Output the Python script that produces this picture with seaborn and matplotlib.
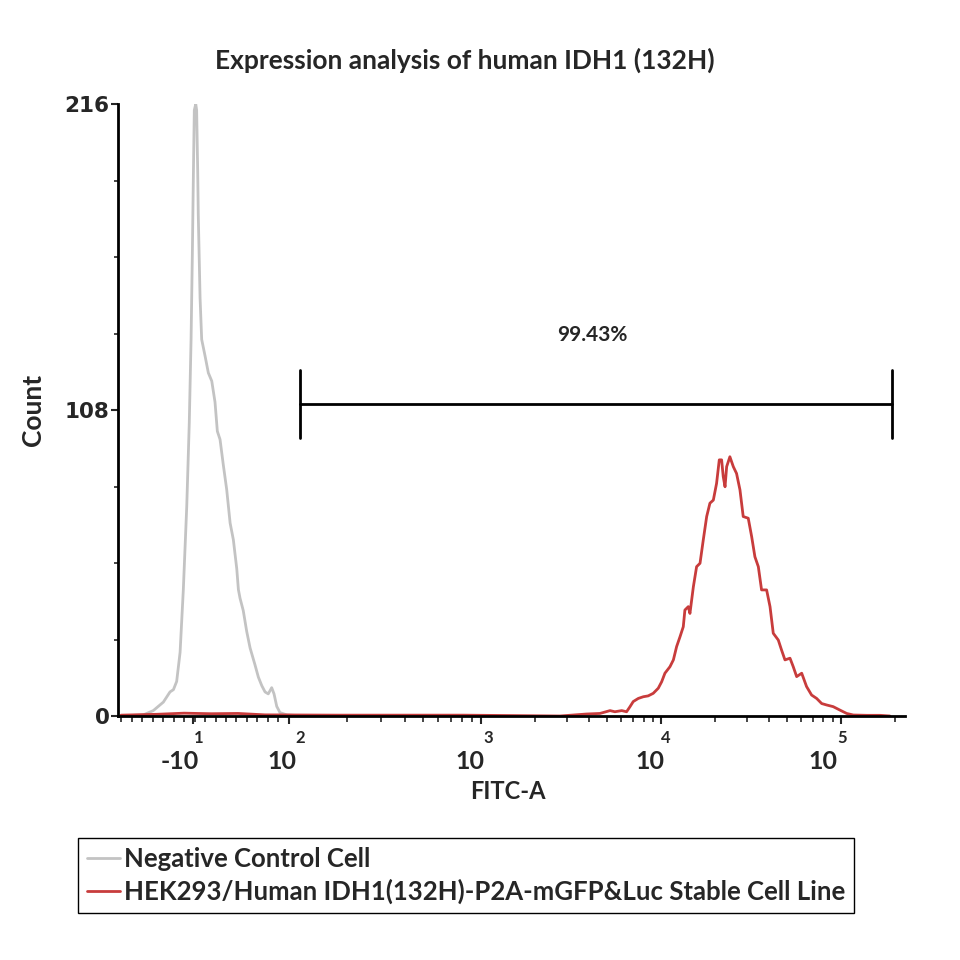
import numpy as np
import pandas as pd
import seaborn as sns
import matplotlib.pyplot as plt

# x positions are in display "decade" units of the biexponential FITC-A axis
neg_x = [1.00, 1.124, 1.179, 1.235, 1.272, 1.291, 1.309, 1.328, 1.346, 1.365, 1.379, 1.389,
         1.396, 1.402, 1.407, 1.415, 1.420, 1.426, 1.429, 1.439, 1.448, 1.467, 1.485, 1.504,
         1.522, 1.535, 1.550, 1.568, 1.587, 1.606, 1.624, 1.643, 1.652, 1.661, 1.679, 1.698,
         1.717, 1.744, 1.763, 1.782, 1.800, 1.818, 1.837, 1.850, 1.865, 1.883, 1.921, 1.976,
         2.087, 2.40]
neg_count = [0.0, 0.4, 1.9, 4.9, 8.5, 9.3, 12.2, 22.5, 44.6, 74.0, 103.4, 132.9,
             162.3, 191.7, 213.8, 216.0, 213.8, 191.7, 177.0, 147.6, 132.9, 127.0, 121.1, 118.2,
             110.8, 100.5, 97.6, 88.7, 79.9, 68.1, 62.2, 51.9, 44.6, 41.6, 37.2, 29.9,
             24.0, 18.1, 13.7, 10.7, 8.5, 7.8, 10.0, 7.8, 3.4, 1.2, 0.4, 0.15,
             0.0, 0.0]

pos_x = [1.00, 1.20, 1.35, 1.50, 1.65, 1.80, 2.20, 2.90, 3.439, 3.513, 3.587, 3.661, 3.717,
         3.744, 3.782, 3.809, 3.828, 3.846, 3.874, 3.902, 3.929, 3.957, 3.985, 4.004, 4.022,
         4.050, 4.069, 4.087, 4.106, 4.124, 4.133, 4.152, 4.161, 4.180, 4.198, 4.217, 4.235,
         4.254, 4.272, 4.291, 4.309, 4.324, 4.337, 4.346, 4.356, 4.365, 4.383, 4.402, 4.420,
         4.439, 4.457, 4.485, 4.504, 4.522, 4.541, 4.559, 4.587, 4.606, 4.624, 4.652, 4.670,
         4.689, 4.717, 4.735, 4.754, 4.782, 4.809, 4.837, 4.865, 4.893, 4.920, 4.957, 4.994,
         5.032, 5.069, 5.143, 5.217, 5.272]
pos_count = [0.3, 0.6, 1.0, 0.8, 0.9, 0.4, 0.3, 0.3, 0.0, 0.35, 0.7, 0.9, 1.9,
             1.5, 1.9, 1.5, 3.3, 5.1, 6.2, 6.8, 7.1, 8.0, 9.8, 12.1, 15.1,
             17.4, 19.8, 24.5, 28.0, 31.5, 37.4, 38.6, 36.2, 45.6, 52.7, 53.9, 62.1,
             70.4, 75.1, 76.2, 82.1, 90.4, 90.4, 84.5, 80.9, 88.0, 91.5, 88.0, 85.6,
             79.8, 70.4, 69.8, 63.3, 56.2, 52.7, 44.5, 44.5, 38.6, 29.2, 26.8, 23.3,
             19.8, 20.4, 17.4, 13.9, 15.1, 10.4, 7.4, 6.2, 4.4, 3.9, 3.3, 2.1,
             0.9, 0.35, 0.24, 0.24, 0.0]

series_names = ["Negative Control Cell",
                "HEK293/Human IDH1(132H)-P2A-mGFP&Luc Stable Cell Line"]
series_colors = ["#c3c3c3", "#c83c3c"]

major_pos = [1.40, 1.933, 3.0, 4.0, 5.0]
tick_bases = ["-10", "10", "10", "10", "10"]
tick_exps = ["1", "2", "3", "4", "5"]
base_label_x = [1.328, 1.894, 2.939, 3.939, 4.900]
exp_label_x = [1.433, 1.994, 3.039, 4.028, 5.006]

y_ticks = [0, 108, 216]
y_minor = [27, 54, 81, 135, 162, 189]

gate_x = (1.994, 5.283)
gate_y = 110.1
gate_cap = (98.1, 122.1)
gate_label = "99.43%"

df = pd.concat([
    pd.DataFrame({"x": neg_x, "count": neg_count, "sample": series_names[0]}),
    pd.DataFrame({"x": pos_x, "count": pos_count, "sample": series_names[1]}),
], ignore_index=True)

sns.set_style("ticks")
plt.rcParams['font.family'] = ['Lato', 'DejaVu Sans']

fig = plt.figure(figsize=(9.6, 9.6), dpi=100)
ax = fig.add_axes([118 / 960, 1 - 716 / 960, 787 / 960, 612 / 960])

sns.lineplot(data=df, x="x", y="count", hue="sample", palette=series_colors,
             hue_order=series_names, sort=False, estimator=None, linewidth=2.0, ax=ax)
handles, labels = ax.get_legend_handles_labels()
ax.get_legend().remove()

ax.set_xlim(0.983, 5.356)
ax.set_ylim(0, 216)

# gate marker
ax.plot(gate_x, [gate_y, gate_y], color="black", lw=2.0)
for gx in gate_x:
    ax.plot([gx, gx], gate_cap, color="black", lw=2.0)
ax.text(sum(gate_x) / 2 - 0.02, 134.5, gate_label, ha="center", va="center",
        fontsize=15, fontweight="bold")

# axes styling
for s in ["top", "right"]:
    ax.spines[s].set_visible(False)
for s in ["left", "bottom"]:
    ax.spines[s].set_linewidth(2.0)
    ax.spines[s].set_color("black")

# x ticks: biexponential style
minor_x = list(np.linspace(1.0, 1.933, 17))
for a, b in zip(major_pos[1:-1], major_pos[2:]):
    minor_x += [a + np.log10(m) * (b - a) for m in range(2, 10)]
minor_x += [5.0 + np.log10(2)]
ax.set_xticks(major_pos, labels=[""] * len(major_pos))
ax.set_xticks(minor_x, minor=True)
ax.tick_params(axis="x", which="major", length=6, width=1.5, direction="out")
ax.tick_params(axis="x", which="minor", length=4, width=1.2, direction="out")
xt = ax.get_xaxis_transform()
for bx, ex, b, e in zip(base_label_x, exp_label_x, tick_bases, tick_exps):
    ax.text(bx, -0.075, b, transform=xt, ha="center", va="center",
            fontsize=18, fontweight="bold")
    ax.text(ex, -0.036, e, transform=xt, ha="center", va="center",
            fontsize=12, fontweight="bold")

ax.set_yticks(y_ticks)
ax.set_yticks(y_minor, minor=True)
ax.set_yticklabels([str(v) for v in y_ticks], fontsize=15.5, fontweight="bold",
                   family="DejaVu Sans")
ax.tick_params(axis="y", which="major", length=5, width=1.5, pad=1)
ax.tick_params(axis="y", which="minor", length=3, width=1.2)

ax.set_xlabel("FITC-A", fontsize=17, fontweight="bold")
ax.xaxis.set_label_coords(0.4956, -0.104)
ax.set_ylabel("Count", fontsize=19, fontweight="bold")
ax.yaxis.set_label_coords(-0.093, 0.5)

fig.text(465 / 960, 1 - 60 / 960, "Expression analysis of human IDH1 (132H)",
         ha="center", va="center", fontsize=19, fontweight="bold")

leg = fig.legend(handles, labels, loc="upper left",
                 bbox_to_anchor=(78 / 960, 1 - 838 / 960), bbox_transform=fig.transFigure,
                 borderaxespad=0, frameon=True, fancybox=False, framealpha=1,
                 edgecolor="black", handlelength=1.3, handletextpad=0.15,
                 borderpad=0.35, labelspacing=0.3,
                 prop={"size": 18.5, "weight": "bold", "family": ["Lato", "DejaVu Sans"]})
leg.get_frame().set_linewidth(1.0)
for ln in leg.get_lines():
    ln.set_linewidth(2.0)

fig.savefig("out.png", dpi=100)
